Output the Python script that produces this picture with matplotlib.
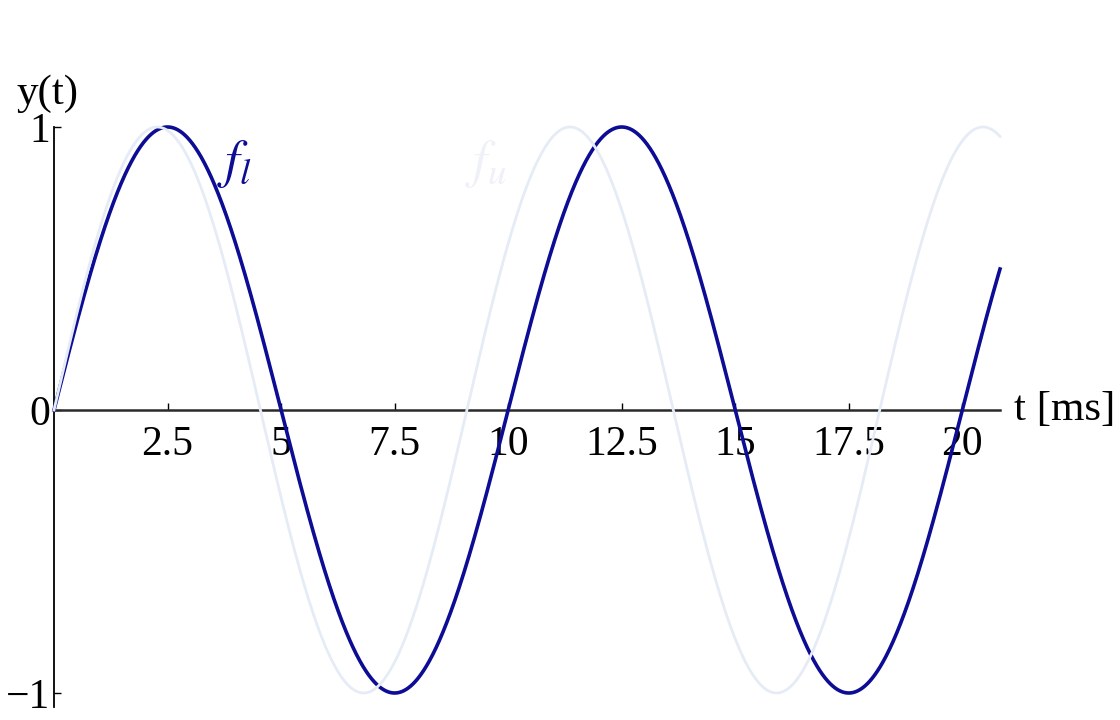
import numpy as np
import matplotlib
matplotlib.use("Agg")
import matplotlib.pyplot as plt

plt.rcParams["font.family"] = ["Liberation Serif", "DejaVu Serif"]
plt.rcParams["mathtext.fontset"] = "stix"

# signal parameters
freq_l_hz = 100.0      # dark curve: zero crossings at 5, 10, 15, 20 ms
freq_u_hz = 110.0      # faint curve: peaks near 2.3, 11.4, 20.4 ms
t_end_ms = 20.83
xticks = [2.5, 5, 7.5, 10, 12.5, 15, 17.5, 20]
xtick_labels = ["2.5", "5", "7.5", "10", "12.5", "15", "17.5", "20"]
yticks = [-1, 0, 1]
ytick_labels = ["\u22121", "0", "1"]

DARK = "#0c0c94"
FAINT = "#e6ecf6"

t = np.linspace(0, t_end_ms, 2000)
y_l = np.sin(2 * np.pi * freq_l_hz * t / 1000)
y_u = np.sin(2 * np.pi * freq_u_hz * t / 1000)

W, H = 1120, 720
fig = plt.figure(figsize=(11.2, 7.2), dpi=100)
ax = fig.add_axes([54 / W, (H - 693) / H, (1000 - 54) / W, (693 - 127) / H])

ax.plot(t, y_l, color=DARK, lw=2.6, clip_on=False, zorder=3)
ax.plot(t, y_u, color=FAINT, lw=2.0, clip_on=False, zorder=4)

ax.set_xlim(0, t_end_ms)
ax.set_ylim(-1, 1)

for s in ["top", "right"]:
    ax.spines[s].set_visible(False)
ax.spines["bottom"].set_position(("data", 0))
ax.spines["bottom"].set_linewidth(1.8)
ax.spines["bottom"].set_color("#2a2a2a")
ax.spines["left"].set_bounds(-1.05, 1)
ax.spines["left"].set_linewidth(1.3)

ax.set_xticks(xticks)
ax.set_xticklabels(xtick_labels)
ax.set_yticks(yticks)
ax.set_yticklabels(ytick_labels)
ax.tick_params(axis="x", direction="in", length=5, width=1, labelsize=30, pad=11)
ax.tick_params(axis="y", direction="in", length=5, width=1, labelsize=30, pad=3)

ax.text(1.015, 0.5, "t [ms]", transform=ax.transAxes, fontsize=31,
        ha="left", va="center")
ax.text(-0.04, 1.025, "y(t)", transform=ax.transAxes, fontsize=31,
        ha="left", va="bottom")

ax.text(3.6, 0.87, r"$f_l$", color=DARK, fontsize=38, ha="left", va="center")
ax.text(9.05, 0.87, r"$f_u$", color="#eef1f8", fontsize=38, ha="left", va="center")

fig.savefig("out.png", dpi=100)
